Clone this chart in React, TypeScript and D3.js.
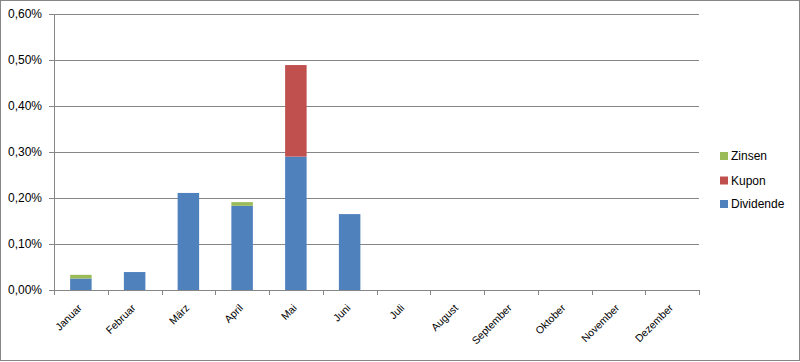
import React from "react";
import * as d3 from "d3";

const months = ["Januar","Februar","März","April","Mai","Juni","Juli","August","September","Oktober","November","Dezember"];
const dividende = [0.025, 0.039, 0.211, 0.183, 0.290, 0.165, 0, 0, 0, 0, 0, 0];
const kupon = [0, 0, 0, 0, 0.199, 0, 0, 0, 0, 0, 0, 0];
const zinsen = [0.008, 0, 0, 0.008, 0, 0, 0, 0, 0, 0, 0, 0];
const yTicks = [0, 0.1, 0.2, 0.3, 0.4, 0.5, 0.6];
const seriesNames = ["Dividende", "Kupon", "Zinsen"];
const colors = ["#4f81bd", "#c0504d", "#9bbb59"];

export default function App() {
  const W = 800, H = 362;
  const left = 54, right = 699, top = 14, bottom = 290;
  const x = d3.scaleBand<string>().domain(months).range([left, right]).paddingInner(0.6).paddingOuter(0.3);
  const xb = d3.scaleBand<string>().domain(months).range([left, right]);
  const y = d3.scaleLinear().domain([0, 0.6]).range([bottom, top]);
  const data = months.map((m, i) => ({ m, Dividende: dividende[i], Kupon: kupon[i], Zinsen: zinsen[i] }));
  const stack = d3.stack<any>().keys(seriesNames)(data);
  const fmt = (v: number) => v.toFixed(2).replace(".", ",") + "%";
  const font = "Liberation Sans, Arial, sans-serif";
  const legendItems = [
    { name: "Zinsen", color: colors[2], y: 156 },
    { name: "Kupon", color: colors[1], y: 180.5 },
    { name: "Dividende", color: colors[0], y: 204 },
  ];
  return (
    <svg width={W} height={H} style={{ display: "block", position: "absolute", left: 0, top: 0 }}>
      <rect x={0.5} y={0.5} width={W - 1} height={H - 2} fill="#fff" stroke="#868686" />
      {yTicks.map((t) => (
        <g key={t}>
          <line x1={left - 5} x2={right} y1={Math.round(y(t)) + 0.5} y2={Math.round(y(t)) + 0.5} stroke="#868686" />
          <text x={42} y={y(t)} dy="0.35em" textAnchor="end" fontFamily={font} fontSize={12} fill="#000">{fmt(t)}</text>
        </g>
      ))}
      <line x1={left + 0.5} x2={left + 0.5} y1={top} y2={bottom} stroke="#868686" />
      {stack.map((s, si) => (
        <g key={s.key} fill={colors[si]}>
          {s.map((d, i) => d[1] - d[0] > 0 ? (
            <rect key={i} x={x(months[i])} width={x.bandwidth()} y={y(d[1])} height={y(d[0]) - y(d[1])} />
          ) : null)}
        </g>
      ))}
      {months.map((m) => (
        <line key={m} x1={Math.round(xb(m)!) + 0.5} x2={Math.round(xb(m)!) + 0.5} y1={bottom} y2={bottom + 5} stroke="#868686" />
      ))}
      <line x1={right + 0.5} x2={right + 0.5} y1={bottom} y2={bottom + 5} stroke="#868686" />
      {months.map((m) => {
        const cx = xb(m)! + xb.bandwidth() / 2 - 1;
        const cy = bottom + 16;
        return (
          <text key={m} transform={`translate(${cx},${cy}) rotate(-45)`} textAnchor="end" dy="0.35em" fontFamily={font} fontSize={10.5} fill="#000">{m}</text>
        );
      })}
      {legendItems.map((l) => (
        <g key={l.name}>
          <rect x={720} y={l.y - 4} width={8} height={8} fill={l.color} />
          <text x={731} y={l.y} dy="0.35em" fontFamily={font} fontSize={12} fill="#000">{l.name}</text>
        </g>
      ))}
    </svg>
  );
}
